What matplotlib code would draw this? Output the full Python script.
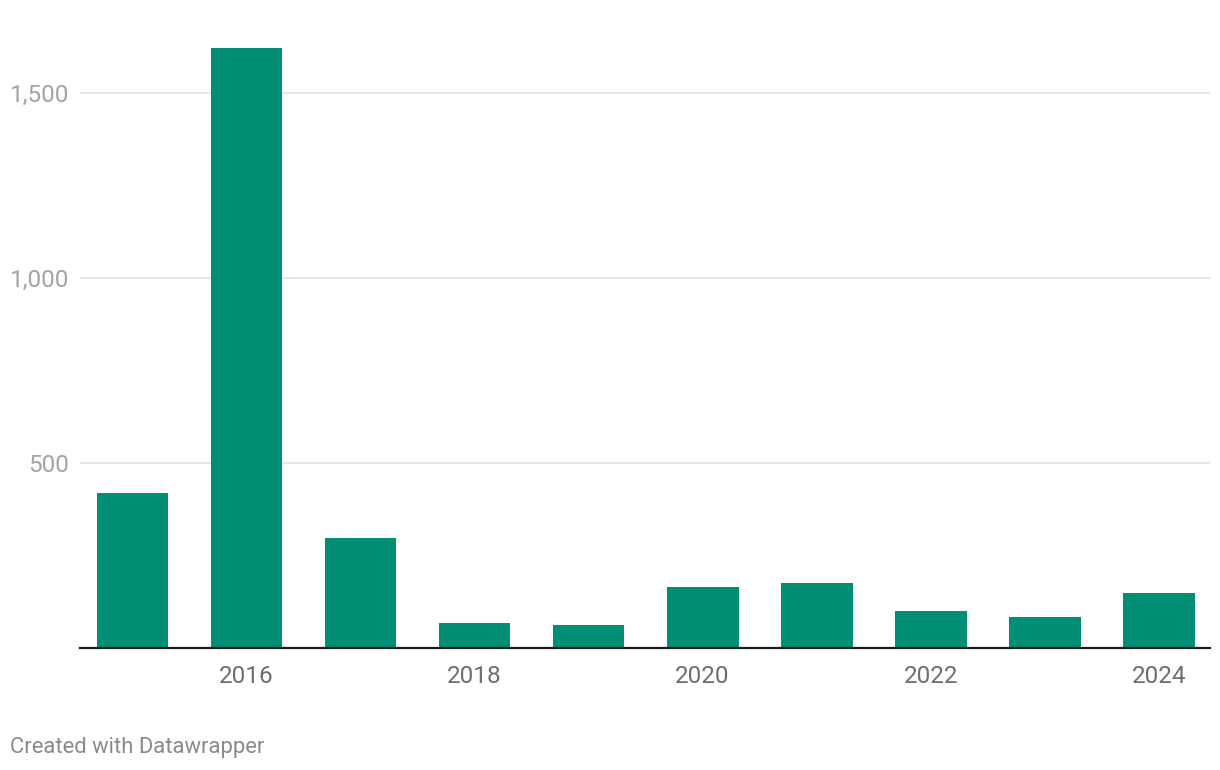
#!/usr/bin/env python3

import matplotlib
matplotlib.use("Agg")
import matplotlib.pyplot as plt
from matplotlib.ticker import FuncFormatter

years = [2015, 2016, 2017, 2018, 2019, 2020, 2021, 2022, 2023, 2024]
values = [418, 1620, 296, 67, 61, 165, 176, 100, 84, 149]
y_ticks = [500, 1000, 1500]
x_ticks = [2016, 2018, 2020, 2022, 2024]

plt.rcParams['font.family'] = ['Roboto', 'DejaVu Sans']

fig = plt.figure(figsize=(12.2, 7.7), dpi=100)
ax = fig.add_axes([80 / 1220, 1 - 648 / 770, 1130 / 1220, 611 / 770])

ax.bar(years, values, width=0.63, color='#008f75', zorder=3)

ax.set_xlim(2014.54, 2024.45)
ax.set_ylim(0, 1650)

ax.set_yticks(y_ticks)
ax.yaxis.set_major_formatter(FuncFormatter(lambda v, p: f"{int(v):,}"))
ax.set_xticks(x_ticks)

ax.grid(axis='y', color='#e3e3e3', linewidth=1.3, zorder=0)
ax.tick_params(axis='y', length=0, pad=8, labelsize=17.5, labelcolor='#a3a3a3')
ax.tick_params(axis='x', length=0, pad=12, labelsize=17.5, labelcolor='#6e6e6e')

for side in ['top', 'right', 'left']:
    ax.spines[side].set_visible(False)
ax.spines['bottom'].set_color('#1a1a1a')
ax.spines['bottom'].set_linewidth(1.6)
ax.spines['bottom'].set_zorder(4)

fig.text(10 / 1220, 1 - 748 / 770, "Created with Datawrapper", fontsize=15.8,
         color='#8a8a8a', va='center', ha='left')

fig.savefig("out.png", dpi=100)
